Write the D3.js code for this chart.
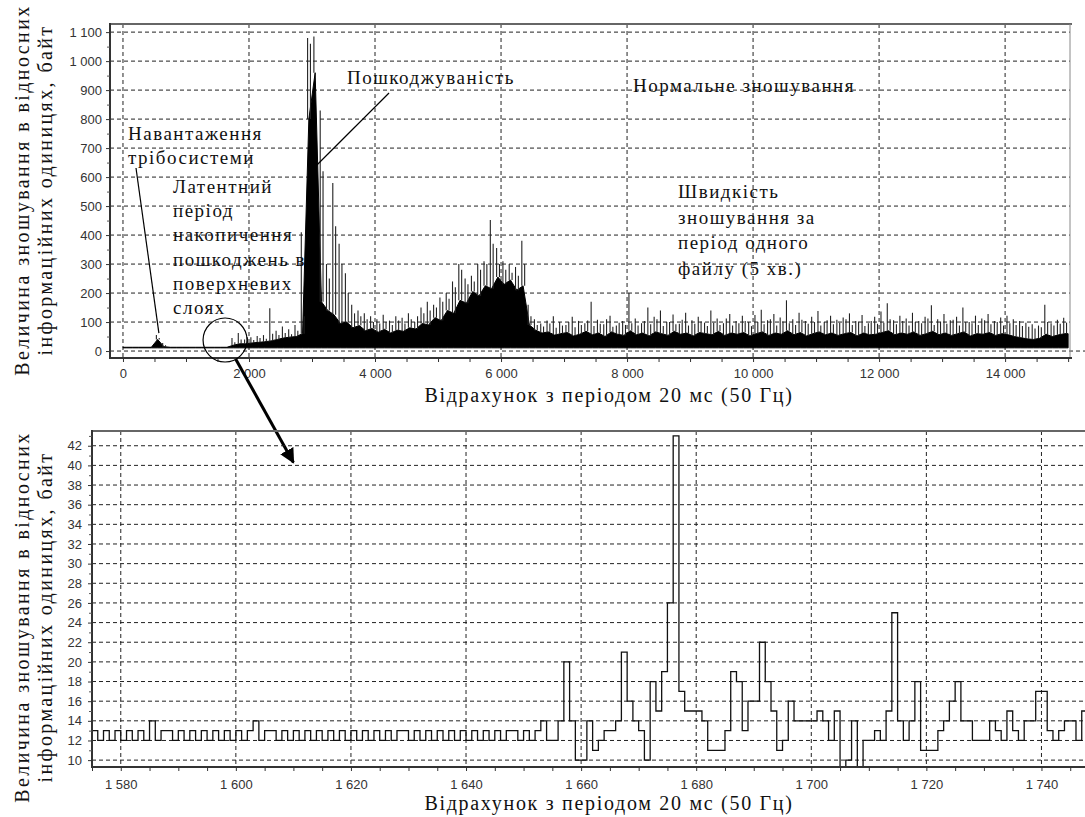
<!DOCTYPE html>
<html>
<head>
<meta charset="utf-8">
<script src="https://cdn.jsdelivr.net/npm/d3@7"></script>
<style>
  body { margin: 0; background: #fff; }
  .tick text { font-family: Arial, "Liberation Sans", sans-serif; font-size: 13px; fill: #333; }
  .serif { font-family: "Liberation Serif", "Times New Roman", serif; fill: #111; }
</style>
</head>
<body>
<div id="chart"></div>
<script>
// ---------- top chart: whole file, 100-sample bins (bin i = samples i*100 .. i*100+99)
const topBinSize = 100;
// peak value in the first half of each bin
const topMax = [
  14, 14, 14, 14, 15, 55, 28, 14, 14, 14,
  14, 14, 14, 14, 14, 14, 14, 45, 62, 40,
  48, 52, 55, 148, 70, 85, 75, 90, 410, 1080,
  1085, 830, 300, 580, 370, 268, 160, 140, 130, 120,
  110, 125, 105, 120, 115, 130, 100, 150, 170, 160,
  185, 200, 240, 300, 250, 260, 300, 310, 452, 355,
  310, 300, 290, 380, 160, 110, 95, 105, 120, 100,
  90, 118, 104, 96, 170, 108, 92, 122, 88, 104,
  200, 112, 96, 150, 118, 140, 100, 126, 94, 132,
  106, 118, 98, 140, 112, 96, 128, 104, 122, 100,
  124, 142, 106, 128, 116, 175, 110, 132, 104, 118,
  138, 100, 122, 108, 116, 130, 104, 124, 96, 118,
  136, 165, 106, 122, 112, 132, 104, 118, 158, 110,
  128, 106, 118, 150, 100, 122, 112, 128, 104, 116,
  122, 110, 104, 98, 92, 88, 160, 96, 108, 115
];
// peak value in the second half of each bin
const topMax2 = [
  13, 13, 13, 13, 13, 45, 20, 13, 13, 13,
  13, 13, 13, 13, 13, 13, 13, 30, 40, 48,
  38, 45, 42, 60, 55, 62, 58, 70, 120, 1060,
  960, 620, 250, 430, 300, 200, 130, 120, 110, 100,
  95, 100, 90, 105, 95, 110, 120, 130, 140, 150,
  170, 180, 220, 280, 230, 240, 280, 300, 370, 300,
  280, 270, 260, 300, 120, 90, 85, 95, 80, 88,
  100, 82, 90, 105, 86, 94, 110, 84, 98, 90,
  96, 88, 104, 92, 110, 86, 100, 92, 108, 88,
  94, 102, 86, 98, 90, 112, 88, 96, 104, 86,
  100, 92, 110, 88, 102, 96, 90, 108, 94, 100,
  88, 106, 92, 98, 110, 90, 102, 86, 104, 94,
  98, 110, 92, 104, 88, 100, 96, 112, 90, 102,
  94, 108, 88, 100, 96, 90, 106, 92, 100, 88,
  96, 90, 86, 84, 78, 82, 100, 88, 94, 98
];
// level of the solid (dense) part of the trace in each bin
const topBody = [
  13, 13, 13, 13, 13, 40, 15, 13, 13, 13,
  13, 13, 13, 13, 13, 13, 13, 20, 25, 25,
  28, 30, 32, 35, 40, 45, 48, 50, 60, 800,
  960, 170, 140, 125, 95, 100, 80, 88, 70, 78,
  65, 75, 62, 72, 68, 80, 76, 95, 90, 115,
  105, 140, 130, 175, 165, 205, 190, 225, 215, 255,
  230, 245, 210, 225, 90, 72, 62, 66, 55, 60,
  64, 52, 58, 68, 56, 62, 50, 66, 58, 54,
  70, 56, 62, 52, 66, 60, 54, 68, 58, 62,
  52, 64, 60, 56, 68, 54, 62, 58, 64, 52,
  60, 66, 54, 62, 58, 70, 56, 64, 52, 60,
  66, 56, 62, 54, 60, 64, 52, 62, 56, 58,
  64, 70, 56, 62, 58, 66, 54, 60, 68, 56,
  62, 54, 60, 66, 52, 60, 58, 64, 54, 60,
  56, 50, 46, 42, 40, 44, 58, 50, 56, 60
];
const signalFloor = 11;
const topYTicks = [0, 100, 200, 300, 400, 500, 600, 700, 800, 900, 1000, 1100];
const topXTicks = [0, 2000, 4000, 6000, 8000, 10000, 12000, 14000];

// ---------- bottom chart: one value per sample, starting at sample 1575
const zoomStart = 1575;
const zoomVals = [
  13, 12, 13, 12, 13, 12, 13, 12, 13, 12,   // 1575
  14, 12, 13, 13, 12, 13, 12, 13, 12, 13,   // 1585
  12, 13, 12, 13, 12, 13, 12, 13, 14, 12,   // 1595
  13, 13, 12, 13, 12, 13, 12, 13, 12, 13,   // 1605
  12, 13, 12, 13, 12, 13, 12, 13, 12, 13,   // 1615
  12, 13, 12, 13, 13, 12, 13, 12, 13, 12,   // 1625
  13, 12, 13, 12, 13, 12, 13, 12, 13, 12,   // 1635
  13, 12, 13, 13, 12, 13, 12, 13, 14, 12,   // 1645
  12, 14, 20, 14, 10, 10, 14, 11, 12, 13,   // 1655
  13, 14, 21, 16, 14, 13, 10, 18, 15, 19,   // 1665
  26, 43, 17, 15, 15, 15, 14, 11, 11, 11,   // 1675
  13, 19, 18, 13, 16, 16, 22, 18, 15, 11,   // 1685
  12, 16, 14, 14, 14, 14, 15, 14, 12, 15,   // 1695
  9, 10, 14, 9, 12, 12, 13, 12, 15, 25,     // 1705
  14, 12, 14, 18, 11, 11, 11, 13, 14, 16,   // 1715
  18, 14, 14, 12, 12, 12, 14, 13, 12, 15,   // 1725
  13, 12, 14, 14, 17, 17, 13, 12, 13, 14,   // 1735
  14, 12, 15, 15                            // 1745
];
const zoomYTicks = d3.range(10, 43, 2);
const zoomXTicks = [1580, 1600, 1620, 1640, 1660, 1680, 1700, 1720, 1740];

const W = 1085, H = 817;
const fmt = d3.formatLocale({decimal: ".", thousands: " ", grouping: [3], currency: ["", ""]}).format(",");

const svg = d3.select("#chart").append("svg")
  .attr("width", W).attr("height", H)
  .style("display", "block");
svg.append("rect").attr("width", W).attr("height", H).attr("fill", "#fff");

const dash = "4,3";

// =============== TOP CHART ===============
const t = {left: 110, right: 1070, top: 24, bottom: 358};
const xTop = d3.scaleLinear().domain([-206, 15030]).range([t.left, t.right]);
const yTop = d3.scaleLinear().domain([-24, 1128]).range([t.bottom, t.top]);

const gTop = svg.append("g");

// gridlines (the zero line runs on to the page edge)
gTop.selectAll(".hgrid").data(topYTicks).enter().append("line")
  .attr("x1", t.left).attr("x2", d => d === 0 ? W : t.right)
  .attr("y1", d => yTop(d)).attr("y2", d => yTop(d))
  .attr("stroke", "#222").attr("stroke-width", 1).attr("stroke-dasharray", dash);
gTop.selectAll(".vgrid").data(topXTicks).enter().append("line")
  .attr("x1", d => xTop(d)).attr("x2", d => xTop(d))
  .attr("y1", t.top).attr("y2", t.bottom)
  .attr("stroke", "#222").attr("stroke-width", 1).attr("stroke-dasharray", dash);

// trace body, through bin centres
const bins = topBody.map((v, i) => ({x: i * topBinSize, body: v, max: topMax[i], max2: topMax2[i]}));
const areaData = [{x: -topBinSize / 2, body: bins[0].body}].concat(bins, [{x: bins.length * topBinSize - topBinSize / 2, body: bins[bins.length - 1].body}]);
gTop.append("path")
  .datum(areaData)
  .attr("d", d3.area()
    .x(d => xTop(d.x + topBinSize / 2))
    .y0(yTop(signalFloor))
    .y1(d => yTop(d.body)))
  .attr("fill", "#000").attr("stroke", "#000").attr("stroke-width", 1);

// spikes: two per bin
const spikes = [];
bins.forEach(d => {
  if (d.max > d.body + 2) spikes.push({x: d.x + topBinSize * 0.3, lo: d.body, hi: d.max});
  if (d.max2 > d.body + 2) spikes.push({x: d.x + topBinSize * 0.75, lo: d.body, hi: d.max2});
});
gTop.selectAll(".spike").data(spikes).enter().append("line")
  .attr("x1", d => xTop(d.x)).attr("x2", d => xTop(d.x))
  .attr("y1", d => yTop(d.lo)).attr("y2", d => yTop(d.hi))
  .attr("stroke", "#222").attr("stroke-width", 1.1);

// frame
gTop.append("line").attr("x1", t.left).attr("x2", t.right + 2).attr("y1", t.top).attr("y2", t.top)
  .attr("stroke", "#666").attr("stroke-width", 2);
gTop.append("line").attr("x1", t.right).attr("x2", t.right).attr("y1", t.top).attr("y2", t.bottom)
  .attr("stroke", "#888").attr("stroke-width", 1);
gTop.append("line").attr("x1", t.left).attr("x2", t.left).attr("y1", t.top - 1).attr("y2", t.bottom + 1)
  .attr("stroke", "#333").attr("stroke-width", 2);
gTop.append("line").attr("x1", t.left).attr("x2", t.right + 2).attr("y1", t.bottom).attr("y2", t.bottom)
  .attr("stroke", "#333").attr("stroke-width", 2);

// axes
gTop.append("g").attr("transform", `translate(${t.left},0)`)
  .call(d3.axisLeft(yTop).tickValues(topYTicks).tickFormat(fmt).tickSize(4).tickPadding(4))
  .call(g => g.select(".domain").remove())
  .call(g => g.selectAll(".tick line").attr("stroke", "#333"));
gTop.append("g").attr("transform", `translate(${t.left},0)`)
  .call(d3.axisLeft(yTop).tickValues(d3.range(50, 1128, 100)).tickFormat("").tickSize(3))
  .call(g => g.select(".domain").remove())
  .call(g => g.selectAll(".tick line").attr("stroke", "#555"));
gTop.append("g").attr("transform", `translate(0,${t.bottom})`)
  .call(d3.axisBottom(xTop).tickValues(d3.range(0, 15001, 500)).tickFormat("").tickSize(4))
  .call(g => g.select(".domain").remove())
  .call(g => g.selectAll(".tick line").attr("stroke", "#333"));
gTop.append("g").attr("transform", `translate(0,${t.bottom})`)
  .call(d3.axisBottom(xTop).tickValues(topXTicks).tickFormat(fmt).tickSize(0).tickPadding(11))
  .call(g => g.select(".domain").remove());

// axis titles
function xTitle(y) {
  svg.append("text").attr("class", "serif")
    .attr("x", 609).attr("y", y).attr("text-anchor", "middle")
    .attr("font-size", 20).attr("letter-spacing", 1.7)
    .text("Відрахунок з періодом 20 мс (50 Гц)");
}
function yTitle(cy) {
  const g = svg.append("g").attr("transform", `translate(29,${cy}) rotate(-90)`);
  g.append("text").attr("class", "serif").attr("text-anchor", "middle")
    .attr("font-size", 20).attr("letter-spacing", 2.4)
    .text("Величина зношування  в відносних");
  g.append("text").attr("class", "serif").attr("text-anchor", "middle")
    .attr("y", 23).attr("font-size", 20).attr("letter-spacing", 2.4)
    .text("інформаційних одиницях, байт");
}
xTitle(402);
yTitle(190);

// annotations
function note(x, y, lines, step) {
  const txt = svg.append("text").attr("class", "serif")
    .attr("font-size", 19).attr("letter-spacing", 1.5);
  lines.forEach((s, i) => txt.append("tspan").attr("x", x).attr("y", y + i * step).text(s));
}
note(128, 140, ["Навантаження", "трібосистеми"], 24);
note(173, 193, ["Латентний", "період", "накопичення", "пошкоджень в", "поверхневих", "слоях"], 24.2);
note(347, 84, ["Пошкоджуваність"], 0);
note(633, 92, ["Нормальне зношування"], 0);
note(678, 198, ["Швидкість", "зношування за", "період одного", "файлу (5 хв.)"], 25.5);

// leader lines (targets given in data space)
svg.append("line").attr("x1", 136).attr("y1", 168)
  .attr("x2", xTop(570)).attr("y2", yTop(62))
  .attr("stroke", "#000").attr("stroke-width", 1.2);
svg.append("line").attr("x1", 389).attr("y1", 93)
  .attr("x2", xTop(3070)).attr("y2", yTop(640))
  .attr("stroke", "#000").attr("stroke-width", 1.2);

// circle around the region shown below
const cx = xTop(1620), cy = yTop(38), r = 22;
svg.append("circle").attr("cx", cx).attr("cy", cy).attr("r", r)
  .attr("fill", "none").attr("stroke", "#000").attr("stroke-width", 1.2);

// =============== BOTTOM CHART ===============
const b = {left: 92, right: 1099, top: 431, bottom: 767};
const xBot = d3.scaleLinear().domain([1575, 1750]).range([b.left, b.right]);
const yBot = d3.scaleLinear().domain([9.3, 43.5]).range([b.bottom, b.top]);

// arrow from the circle to the zoomed view
const ax = xBot(1610), ay = yBot(40.3);
const ang = Math.atan2(ay - cy, ax - cx);
const sx = cx + r * Math.cos(ang), sy = cy + r * Math.sin(ang);
svg.append("defs").append("marker")
  .attr("id", "arr").attr("viewBox", "0 0 10 10").attr("refX", 9).attr("refY", 5)
  .attr("markerWidth", 5).attr("markerHeight", 5).attr("orient", "auto")
  .append("path").attr("d", "M0,0 L10,5 L0,10 z").attr("fill", "#000");
svg.append("line").attr("x1", sx).attr("y1", sy).attr("x2", ax).attr("y2", ay)
  .attr("stroke", "#000").attr("stroke-width", 3).attr("marker-end", "url(#arr)");

const gBot = svg.append("g");
gBot.append("clipPath").attr("id", "clipBot").append("rect")
  .attr("x", b.left).attr("y", b.top).attr("width", W - b.left).attr("height", b.bottom - b.top);

gBot.selectAll(".hgrid").data(zoomYTicks).enter().append("line")
  .attr("x1", b.left).attr("x2", W)
  .attr("y1", d => yBot(d)).attr("y2", d => yBot(d))
  .attr("stroke", "#222").attr("stroke-width", 1).attr("stroke-dasharray", dash);
gBot.selectAll(".vgrid").data(zoomXTicks).enter().append("line")
  .attr("x1", d => xBot(d)).attr("x2", d => xBot(d))
  .attr("y1", b.top).attr("y2", b.bottom)
  .attr("stroke", "#222").attr("stroke-width", 1).attr("stroke-dasharray", dash);

const stepData = zoomVals.map((v, i) => [zoomStart + i, v]);
stepData.push([zoomStart + zoomVals.length, zoomVals[zoomVals.length - 1]]);
gBot.append("path")
  .datum(stepData)
  .attr("clip-path", "url(#clipBot)")
  .attr("d", d3.line().curve(d3.curveStepAfter).x(d => xBot(d[0])).y(d => yBot(d[1])))
  .attr("fill", "none").attr("stroke", "#111").attr("stroke-width", 1.3);

// frame
gBot.append("line").attr("x1", b.left).attr("x2", W).attr("y1", b.top).attr("y2", b.top)
  .attr("stroke", "#666").attr("stroke-width", 2);
gBot.append("line").attr("x1", b.left).attr("x2", b.left).attr("y1", b.top - 1).attr("y2", b.bottom + 1)
  .attr("stroke", "#333").attr("stroke-width", 2);
gBot.append("line").attr("x1", b.left).attr("x2", W).attr("y1", b.bottom).attr("y2", b.bottom)
  .attr("stroke", "#333").attr("stroke-width", 2);

gBot.append("g").attr("transform", `translate(${b.left},0)`)
  .call(d3.axisLeft(yBot).tickValues(zoomYTicks).tickFormat(fmt).tickSize(4).tickPadding(6))
  .call(g => g.select(".domain").remove())
  .call(g => g.selectAll(".tick line").attr("stroke", "#333"));
gBot.append("g").attr("transform", `translate(${b.left},0)`)
  .call(d3.axisLeft(yBot).tickValues(d3.range(11, 44, 2)).tickFormat("").tickSize(3))
  .call(g => g.select(".domain").remove())
  .call(g => g.selectAll(".tick line").attr("stroke", "#555"));
gBot.append("g").attr("transform", `translate(0,${b.bottom})`)
  .call(d3.axisBottom(xBot).tickValues(d3.range(1575, 1750, 5)).tickFormat("").tickSize(4))
  .call(g => g.select(".domain").remove())
  .call(g => g.selectAll(".tick line").attr("stroke", "#333"));
gBot.append("g").attr("transform", `translate(0,${b.bottom})`)
  .call(d3.axisBottom(xBot).tickValues(zoomXTicks).tickFormat(fmt).tickSize(0).tickPadding(13))
  .call(g => g.select(".domain").remove());

xTitle(810);
yTitle(617);
</script>
</body>
</html>
